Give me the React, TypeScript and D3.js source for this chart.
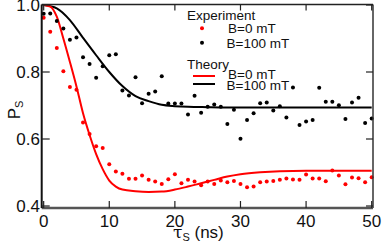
import React from "react";
import * as d3 from "d3";

// experiment, sampled every 1 ns from 0 to 50
const expTimes = d3.range(0, 51);
const expB0 = [
  0.962, 0.92, 0.872, 0.802, 0.755, 0.747, 0.649, 0.615, 0.578, 0.573,
  0.525, 0.503, 0.496, 0.481, 0.481, 0.491, 0.478, 0.473, 0.466, 0.48,
  0.495, 0.468, 0.478, 0.473, 0.462, 0.473, 0.466, 0.476, 0.471, 0.475,
  0.466, 0.456, 0.458, 0.471, 0.473, 0.475, 0.478, 0.482, 0.479, 0.478,
  0.494, 0.482, 0.482, 0.474, 0.506, 0.491, 0.465, 0.485, 0.483, 0.471,
  0.486,
];
const expB100 = [
  0.974, 0.975, 0.952, 0.93, 0.896, 0.903, 0.844, 0.824, 0.783, 0.817,
  0.85, 0.853, 0.745, 0.73, 0.784, 0.707, 0.735, 0.742, 0.787, 0.706,
  0.706, 0.706, 0.673, 0.729, 0.678, 0.696, 0.703, 0.696, 0.645, 0.687,
  0.601, 0.657, 0.677, 0.707, 0.709, 0.685, 0.698, 0.664, 0.754, 0.642,
  0.652, 0.657, 0.753, 0.711, 0.711, 0.701, 0.66, 0.709, 0.723, 0.648,
  0.661,
];

// theory curves
const thB0Times = [0, 1, 2, 3, 4, 5, 6, 7, 8, 9, 10, 11, 12, 14, 16, 18, 20, 22, 24, 26, 28, 30, 33, 36, 40, 45, 50];
const thB0 = [1.0, 0.995, 0.965, 0.9, 0.83, 0.757, 0.677, 0.612, 0.555, 0.51, 0.476, 0.458, 0.449, 0.444, 0.442, 0.443, 0.449, 0.458, 0.468, 0.478, 0.488, 0.495, 0.501, 0.504, 0.505, 0.505, 0.505];
const thB100Times = [0, 2, 4, 6, 8, 10, 12, 14, 16, 18, 20, 22, 25, 30, 40, 50];
const thB100 = [1.0, 0.99, 0.955, 0.902, 0.85, 0.8, 0.758, 0.728, 0.713, 0.702, 0.698, 0.696, 0.695, 0.694, 0.694, 0.694];

const xTicks = [0, 10, 20, 30, 40, 50];
const yTicks = [0.4, 0.6, 0.8, 1.0];

const W = 382;
const H = 247;
const font = "'Liberation Sans', Arial, sans-serif";

export default function App() {
  const x = d3.scaleLinear().domain([-0.3, 50.2]).range([41.7, 373]);
  const y = d3.scaleLinear().domain([0.4, 1.0]).range([206, 5]);
  const left = x(-0.3), right = x(50.2), top = 4.5, bottom = 208;

  const line = d3
    .line<[number, number]>()
    .x((d) => x(d[0]))
    .y((d) => y(d[1]))
    .curve(d3.curveMonotoneX);

  const red = "#ff0000";

  return (
    <svg
      width={W}
      height={H}
      style={{ position: "absolute", left: 0, top: 0, background: "#fff" }}
      fontFamily={font}
    >
      {/* theory */}
      <path d={line(thB100Times.map((t, i) => [t, thB100[i]]))} fill="none" stroke="#000" strokeWidth={2} />
      <path d={line(thB0Times.map((t, i) => [t, thB0[i]]))} fill="none" stroke={red} strokeWidth={2} />

      {/* experiment */}
      {expTimes.map((t, i) => (
        <circle key={"b" + i} cx={x(t)} cy={y(expB100[i])} r={2} fill="#000" />
      ))}
      {expTimes.map((t, i) => (
        <circle key={"r" + i} cx={x(t)} cy={y(expB0[i])} r={2} fill={red} />
      ))}

      {/* frame */}
      <line x1={left} x2={right} y1={top} y2={top} stroke="#222" strokeWidth={1.5} />
      <line x1={right} x2={right} y1={top} y2={bottom} stroke="#333" strokeWidth={1.5} />
      <line x1={left} x2={right} y1={bottom} y2={bottom} stroke="#555" strokeWidth={2.5} />
      <line x1={left} x2={left} y1={top} y2={bottom} stroke="#111" strokeWidth={2} />

      {/* ticks */}
      {xTicks.map((t) => (
        <g key={"xt" + t}>
          <line x1={x(t)} x2={x(t)} y1={bottom} y2={bottom - 7} stroke="#222" strokeWidth={1.2} />
          <line x1={x(t)} x2={x(t)} y1={top} y2={top + 6} stroke="#222" strokeWidth={1.2} />
          <text x={x(t)} y={227} textAnchor="middle" fontSize={17} fill="#111">
            {t}
          </text>
        </g>
      ))}
      {yTicks.map((v) => (
        <g key={"yt" + v}>
          <line x1={left} x2={left + 8} y1={y(v)} y2={y(v)} stroke="#222" strokeWidth={1.2} />
          <line x1={right} x2={right - 7} y1={y(v)} y2={y(v)} stroke="#222" strokeWidth={1.2} />
          <text x={40} y={y(v)} dy="0.36em" textAnchor="end" fontSize={17} fill="#111">
            {v.toFixed(1)}
          </text>
        </g>
      ))}

      {/* axis titles */}
      <text x={173} y={238} fontSize={17} fill="#111">
        <tspan fontFamily="'DejaVu Serif', serif">τ</tspan>
        <tspan fontSize={11} dy={3}>S</tspan>
        <tspan dy={-3}> (ns)</tspan>
      </text>
      <text transform="translate(20,110) rotate(-90)" textAnchor="middle" fontSize={17} fill="#111">
        P<tspan fontSize={11} dy={3}>S</tspan>
      </text>

      {/* legend */}
      <g fontSize={13.5} fill="#111">
        <text x={187} y={20}>Experiment</text>
        <circle cx={202} cy={28.3} r={2} fill={red} />
        <text x={228} y={32.5}>B=0 mT</text>
        <circle cx={202} cy={42.7} r={2} fill="#000" />
        <text x={226.5} y={47.5}>B=100 mT</text>
        <text x={187} y={69}>Theory</text>
        <line x1={193} x2={215} y1={76} y2={76} stroke={red} strokeWidth={2} />
        <text x={228} y={78.5}>B=0 mT</text>
        <line x1={193} x2={215} y1={84} y2={84} stroke="#000" strokeWidth={2} />
        <text x={226.5} y={90}>B=100 mT</text>
      </g>
    </svg>
  );
}
